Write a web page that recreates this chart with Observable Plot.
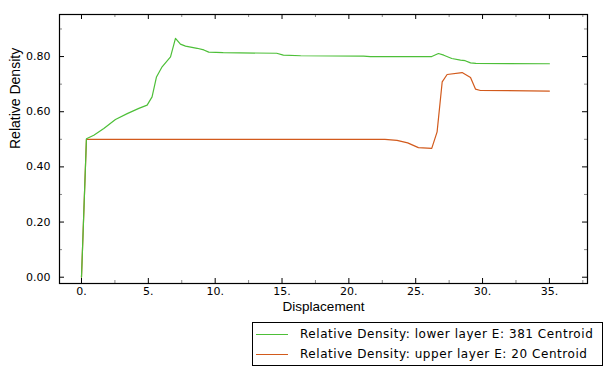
<!DOCTYPE html>
<html>
<head>
<meta charset="utf-8">
<script src="https://cdn.jsdelivr.net/npm/d3@7"></script>
<script src="https://cdn.jsdelivr.net/npm/@observablehq/plot@0.6"></script>
<style>
  html, body { margin: 0; padding: 0; background: #fff; }
  #wrap { position: relative; width: 606px; height: 369px; overflow: hidden; }
  #legend {
    position: absolute; left: 252px; top: 322px; width: 349px; height: 42px;
    border: 1px solid #000; background: #fff;
    font-family: "DejaVu Sans", Verdana, sans-serif; font-size: 12px; letter-spacing: 0.55px; color: #000;
  }
  .row { position: absolute; left: 0; height: 20px; display: flex; align-items: center; white-space: nowrap; }
  .swatch { width: 32px; height: 0; margin-left: 3px; margin-right: 12px; border-top: 1.3px solid; }
</style>
</head>
<body>
<div id="wrap"><div id="chart"></div><div id="legend"></div></div>
<script>
// Series: Relative Density, lower layer E: 381 Centroid
const lowerX = [0, 0.37, 0.92, 1.67, 2.54, 3.42, 4.29, 4.91, 5.28, 5.61, 6.03, 6.66, 7.03, 7.4, 7.78, 8.65, 9.15, 9.52, 10.6, 14.6, 15.1, 16.4, 21.1, 21.6, 26.2, 26.7, 27.1, 27.7, 28.35, 28.7, 29.1, 29.5, 35];
const lowerY = [0, 0.502, 0.515, 0.539, 0.572, 0.593, 0.612, 0.624, 0.654, 0.726, 0.763, 0.799, 0.866, 0.845, 0.838, 0.830, 0.824, 0.816, 0.814, 0.812, 0.805, 0.803, 0.8015, 0.800, 0.800, 0.811, 0.805, 0.793, 0.787, 0.785, 0.777, 0.775, 0.774];
// Series: Relative Density, upper layer E: 20 Centroid
const upperX = [0, 0.37, 22.7, 23.6, 24.4, 25.2, 26.2, 26.6, 26.98, 27.35, 28.47, 29.1, 29.47, 29.84, 35];
const upperY = [0, 0.5, 0.5, 0.496, 0.487, 0.47, 0.467, 0.527, 0.708, 0.735, 0.742, 0.724, 0.682, 0.677, 0.675];

const seriesNames = ["Relative Density: lower layer E: 381 Centroid", "Relative Density: upper layer E: 20 Centroid"];
const seriesColors = ["#4dbf38", "#d25a1c"];

const xMajor = [0, 5, 10, 15, 20, 25, 30, 35];
const xMinor = [2.5, 7.5, 12.5, 17.5, 22.5, 27.5, 32.5, 37.5];
const yMajor = [0, 0.2, 0.4, 0.6, 0.8];
const yMinor = [0.1, 0.3, 0.5, 0.7, 0.9];
const xDomain = [-1.645, 37.85];
const yDomain = [-0.0228, 0.9525];
const xLabel = "Displacement";
const yLabel = "Relative Density";

const lower = lowerX.map((x, i) => ({x, y: lowerY[i]}));
const upper = upperX.map((x, i) => ({x, y: upperY[i]}));

const W = 606, H = 316;
const mL = 59, mR = 19, mT = 14, mB = 33;
const fw = W - mL - mR, fh = H - mT - mB;

const chart = Plot.plot({
  width: W, height: H,
  marginLeft: mL, marginRight: mR, marginTop: mT, marginBottom: mB,
  style: {fontFamily: "'DejaVu Sans', Verdana, sans-serif", fontSize: "11px", background: "#fff", color: "#000"},
  x: {domain: xDomain, label: null},
  y: {domain: yDomain, label: null},
  marks: [
    Plot.axisX(xMajor, {tickSize: 0, tickPadding: 4, tickFormat: d => d + ".", fill: "#000", fontSize: 11, label: null}),
    Plot.axisY(yMajor, {tickSize: 0, tickPadding: 9, tickFormat: d3.format(".2f"), fill: "#000", fontSize: 11, label: null}),
    // inward ticks: bottom & top
    Plot.tickX(xMajor, {x: d => d, insetTop: fh - 5, stroke: "#000", strokeWidth: 1}),
    Plot.tickX(xMajor, {x: d => d, insetBottom: fh - 5, stroke: "#000", strokeWidth: 1}),
    Plot.tickX(xMinor, {x: d => d, insetTop: fh - 3, stroke: "#888", strokeWidth: 1}),
    Plot.tickX(xMinor, {x: d => d, insetBottom: fh - 3, stroke: "#888", strokeWidth: 1}),
    // inward ticks: left & right
    Plot.tickY(yMajor, {y: d => d, insetRight: fw - 5, stroke: "#000", strokeWidth: 1}),
    Plot.tickY(yMajor, {y: d => d, insetLeft: fw - 5, stroke: "#000", strokeWidth: 1}),
    Plot.tickY(yMinor, {y: d => d, insetRight: fw - 3, stroke: "#888", strokeWidth: 1}),
    Plot.tickY(yMinor, {y: d => d, insetLeft: fw - 3, stroke: "#888", strokeWidth: 1}),
    Plot.line(upper, {x: "x", y: "y", stroke: seriesColors[1], strokeWidth: 1.2}),
    Plot.line(lower, {x: "x", y: "y", stroke: seriesColors[0], strokeWidth: 1.2}),
    Plot.frame({stroke: "#000", strokeWidth: 1.2}),
    Plot.text([xLabel], {frameAnchor: "bottom", dy: 23, lineAnchor: "middle", fontFamily: "'Liberation Sans', Arial, sans-serif", fontSize: 13.5, fill: "#000"}),
    Plot.text([yLabel], {frameAnchor: "left", dx: -44, rotate: -90, lineAnchor: "middle", fontFamily: "'Liberation Sans', Arial, sans-serif", fontSize: 14, fill: "#000"})
  ]
});
document.getElementById("chart").appendChild(chart);

const legend = document.getElementById("legend");
seriesNames.forEach((name, i) => {
  const row = document.createElement("div");
  row.className = "row";
  row.style.top = (1 + i * 20) + "px";
  const sw = document.createElement("span");
  sw.className = "swatch";
  sw.style.borderTopColor = seriesColors[i];
  const t = document.createElement("span");
  t.textContent = name;
  row.appendChild(sw); row.appendChild(t);
  legend.appendChild(row);
});
</script>
</body>
</html>
